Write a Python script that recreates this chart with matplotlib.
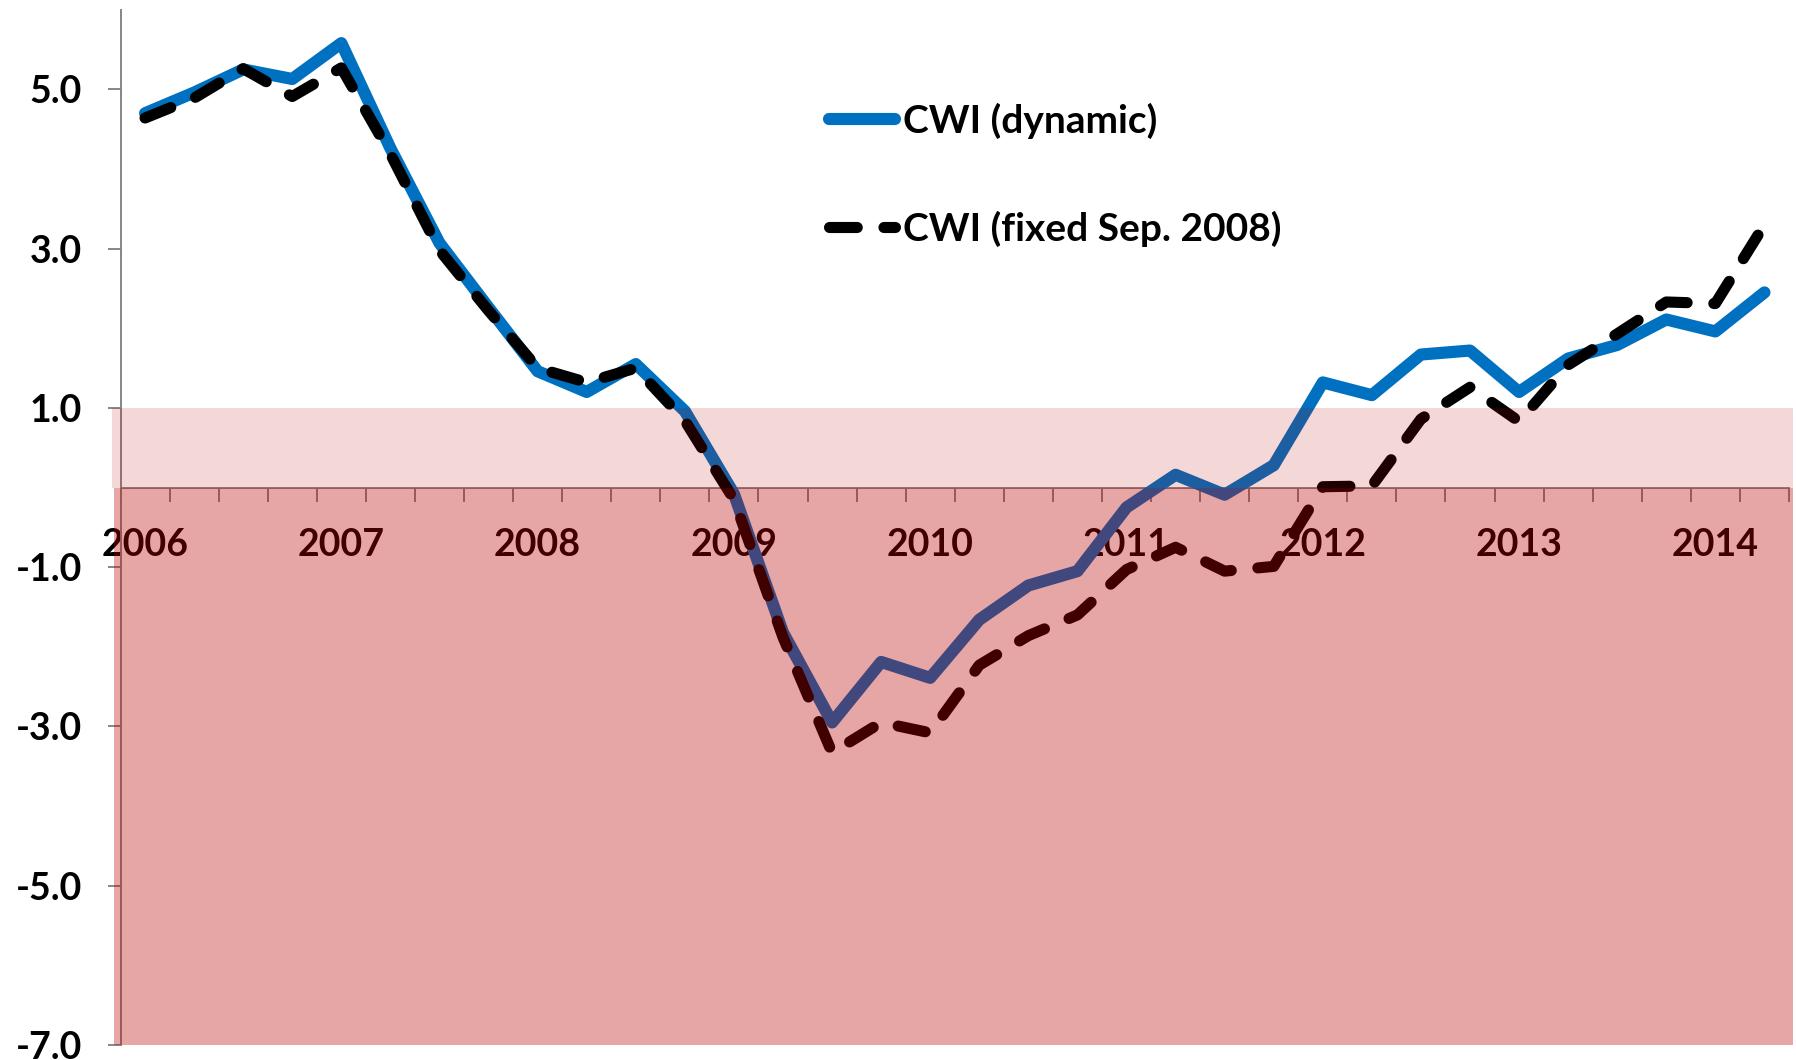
import matplotlib.pyplot as plt
from matplotlib.patches import Rectangle

# quarterly values, 2006Q1 .. 2014Q2
cwi_dynamic = [4.70, 4.96, 5.25, 5.13, 5.58, 4.26, 3.07, 2.26,
               1.46, 1.20, 1.55, 0.96, -0.08, -1.82, -2.95, -2.19,
               -2.39, -1.66, -1.23, -1.05, -0.25, 0.16, -0.09, 0.28,
               1.32, 1.16, 1.67, 1.72, 1.20, 1.62, 1.79, 2.11,
               1.96, 2.45]
cwi_fixed = [4.64, 4.89, 5.26, 4.91, 5.27, 4.19, 2.98, 2.22,
             1.50, 1.32, 1.50, 0.84, -0.15, -1.88, -3.33, -2.95,
             -3.08, -2.23, -1.86, -1.60, -1.03, -0.75, -1.05, -0.99,
             0.01, 0.02, 0.86, 1.26, 0.83, 1.54, 1.93, 2.33,
             2.31, 3.30]
year_labels = ["2006", "2007", "2008", "2009", "2010", "2011", "2012", "2013", "2014"]
y_ticks = [-7, -5, -3, -1, 1, 3, 5]

plt.rcParams['font.family'] = ['Lato', 'DejaVu Sans']
plt.rcParams['font.weight'] = 'bold'

fig = plt.figure(figsize=(17.96, 10.60), dpi=100)
ax = fig.add_axes([0.0671, 0.01415, 0.929, 0.9767])

n = len(cwi_dynamic)
x = list(range(n))

ax.plot(x, cwi_dynamic, color='#0070C0', lw=8.75, solid_capstyle='round',
        solid_joinstyle='round', label='CWI (dynamic)', zorder=3)
ax.plot(x, cwi_fixed, color='black', lw=8.0, dashes=(2.5, 2.4),
        dash_capstyle='round', dash_joinstyle='round',
        label='CWI (fixed Sep. 2008)', zorder=4)

ax.set_xlim(-0.5, n - 0.5)
ax.set_ylim(-7, 6)

# translucent red bands drawn over everything (lines and labels show through)
ax.add_patch(Rectangle((-0.632, -7), n + 0.21, 7, facecolor='#BD0000',
                       alpha=0.35, lw=0, zorder=10, clip_on=False))
ax.add_patch(Rectangle((-0.673, 0), n + 0.25, 1, facecolor='#BD0000',
                       alpha=0.157, lw=0, zorder=10, clip_on=False))

for side in ['top', 'right']:
    ax.spines[side].set_visible(False)
ax.spines['bottom'].set_position(('data', 0))
for side in ['left', 'bottom']:
    ax.spines[side].set_color('#868686')
    ax.spines[side].set_linewidth(1.4)

ax.set_yticks(y_ticks)
ax.set_yticklabels([f"{v:.1f}" for v in y_ticks])
ax.tick_params(axis='y', direction='out', length=9.4, width=1.4,
               color='#868686', pad=18.5, labelsize=27)

ax.set_xticks(x[::4])
ax.set_xticklabels(year_labels)
ax.set_xticks([i - 0.5 for i in range(n + 1)], minor=True)
ax.tick_params(axis='x', which='major', length=0, pad=29, labelsize=27)
ax.tick_params(axis='x', which='minor', direction='out', length=10,
               width=1.4, color='#868686')

ax.legend(loc='upper left', bbox_to_anchor=(829 / 1796, 0.903),
          bbox_transform=fig.transFigure, frameon=False, fontsize=28,
          handlelength=1.7, handletextpad=0.2, labelspacing=1.85,
          borderpad=0, borderaxespad=0)

fig.savefig('out.png', dpi=100)
